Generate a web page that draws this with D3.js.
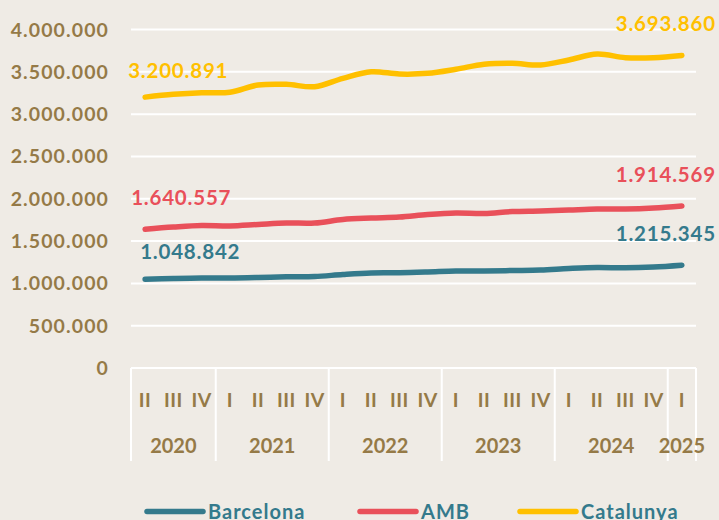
<!DOCTYPE html>
<html>
<head>
<meta charset="utf-8">
<script src="https://cdn.jsdelivr.net/npm/d3@7"></script>
<style>
  body { margin: 0; background: #efebe5; }
  svg { display: block; font-family: Lato, "Open Sans", sans-serif; font-weight: bold; }
</style>
</head>
<body>
<svg id="chart" width="719" height="520"></svg>
<script>
// quarters shown on the axis (2020 Q2 .. 2025 Q1)
var quarters = ['II','III','IV','I','II','III','IV','I','II','III','IV','I','II','III','IV','I','II','III','IV','I'];
var years = ['2020','2021','2022','2023','2024','2025'];
var yearSizes = [3, 4, 4, 4, 4, 1];

var barcelona = [1048842, 1058000, 1064000, 1063000, 1069000, 1078000, 1081000, 1105000, 1123000, 1125000,
                 1134000, 1146000, 1146000, 1152000, 1158000, 1176000, 1188000, 1184000, 1194000, 1215345];
var amb = [1640557, 1666000, 1684000, 1678000, 1696000, 1713000, 1713000, 1755000, 1772000, 1784000,
           1814000, 1832000, 1826000, 1849000, 1855000, 1867000, 1879000, 1879000, 1891000, 1914569];
var catalunya = [3200891, 3234000, 3253000, 3258000, 3344000, 3352000, 3324000, 3423000, 3501000, 3474000,
                 3482000, 3530000, 3589000, 3601000, 3580000, 3640000, 3710000, 3667000, 3667000, 3693860];

var yTicks = [0, 500000, 1000000, 1500000, 2000000, 2500000, 3000000, 3500000, 4000000];

var series = [
  { name: 'Barcelona', values: barcelona, color: '#347a8c' },
  { name: 'AMB', values: amb, color: '#e9505a' },
  { name: 'Catalunya', values: catalunya, color: '#ffc000' }
];

var brown = '#957a47';
var svg = d3.select('#chart');
var fmt = d3.formatLocale({ decimal: ',', thousands: '.', grouping: [3], currency: ['', ''] }).format(',d');

var x = d3.scaleBand().domain(d3.range(quarters.length)).range([131, 696]);
var y = d3.scaleLinear().domain([0, 4000000]).range([368, 29.5]);

svg.append('rect').attr('width', 719).attr('height', 520).attr('fill', '#efebe5');

// gridlines
svg.selectAll('.grid')
  .data(yTicks.slice(1))
  .enter().append('line')
  .attr('x1', 131).attr('x2', 696)
  .attr('y1', function(d) { return y(d); })
  .attr('y2', function(d) { return y(d); })
  .attr('stroke', '#ffffff')
  .attr('stroke-width', 2);

// y labels
svg.selectAll('.ylab')
  .data(yTicks)
  .enter().append('text')
  .attr('x', 109)
  .attr('y', function(d) { return y(d); })
  .attr('dy', '0.36em')
  .attr('text-anchor', 'end')
  .attr('fill', brown)
  .attr('font-size', 19.5)
  .attr('letter-spacing', 1.1)
  .text(function(d) { return fmt(d); });

// category axis: base line and year separators
svg.append('line')
  .attr('x1', 131).attr('x2', 696)
  .attr('y1', y(0)).attr('y2', y(0))
  .attr('stroke', '#ffffff').attr('stroke-width', 2);

var bounds = [0];
yearSizes.forEach(function(n) { bounds.push(bounds[bounds.length - 1] + n); });

svg.selectAll('.sep')
  .data(bounds)
  .enter().append('line')
  .attr('x1', function(d) { return d < quarters.length ? x(d) : x.range()[1]; })
  .attr('x2', function(d) { return d < quarters.length ? x(d) : x.range()[1]; })
  .attr('y1', y(0)).attr('y2', 461)
  .attr('stroke', '#ffffff').attr('stroke-width', 2);

svg.selectAll('.qlab')
  .data(quarters)
  .enter().append('text')
  .attr('x', function(d, i) { return x(i) + x.bandwidth() / 2; })
  .attr('y', 407)
  .attr('text-anchor', 'middle')
  .attr('fill', brown)
  .attr('font-size', 19.5)
  .attr('letter-spacing', 0.5)
  .text(function(d) { return d; });

svg.selectAll('.ylab2')
  .data(years)
  .enter().append('text')
  .attr('x', function(d, i) {
    var a = x(bounds[i]);
    var b = bounds[i + 1] < quarters.length ? x(bounds[i + 1]) : x.range()[1];
    return (a + b) / 2;
  })
  .attr('y', 452.5)
  .attr('text-anchor', 'middle')
  .attr('fill', brown)
  .attr('font-size', 20)
  .text(function(d) { return d; });

// lines
var line = d3.line()
  .x(function(d, i) { return x(i) + x.bandwidth() / 2; })
  .y(function(d) { return y(d); })
  .curve(d3.curveCatmullRom.alpha(0.5));

svg.selectAll('.series')
  .data(series)
  .enter().append('path')
  .attr('d', function(s) { return line(s.values); })
  .attr('fill', 'none')
  .attr('stroke', function(s) { return s.color; })
  .attr('stroke-width', 5.5)
  .attr('stroke-linecap', 'round')
  .attr('stroke-linejoin', 'round');

// value labels at first and last point
var last = quarters.length - 1;
var firstOffsets = { Barcelona: [-5, -20], AMB: [-14, -24], Catalunya: [-17, -19.5] };
series.forEach(function(s) {
  var px = x(0) + x.bandwidth() / 2;
  var o = firstOffsets[s.name];
  svg.append('text')
    .attr('x', px + o[0])
    .attr('y', y(s.values[0]) + o[1])
    .attr('fill', s.color)
    .attr('font-size', 20.5)
    .attr('letter-spacing', 0.8)
    .text(fmt(s.values[0]));
  svg.append('text')
    .attr('x', x(last) + x.bandwidth() / 2 + 34)
    .attr('y', y(s.values[last]) - 24)
    .attr('text-anchor', 'end')
    .attr('fill', s.color)
    .attr('font-size', 20.5)
    .attr('letter-spacing', 0.8)
    .text(fmt(s.values[last]));
});

// legend
var legendX = [147, 360, 520];
var legend = svg.selectAll('.legend')
  .data(series)
  .enter().append('g')
  .attr('transform', function(d, i) { return 'translate(' + legendX[i] + ',511.5)'; });

legend.append('line')
  .attr('x1', 0).attr('x2', 56)
  .attr('stroke', function(d) { return d.color; })
  .attr('stroke-width', 5.5)
  .attr('stroke-linecap', 'round');

legend.append('text')
  .attr('x', 61)
  .attr('y', 7.5)
  .attr('fill', '#347a8c')
  .attr('font-size', 20)
  .attr('letter-spacing', 1)
  .text(function(d) { return d.name; });
</script>
</body>
</html>
